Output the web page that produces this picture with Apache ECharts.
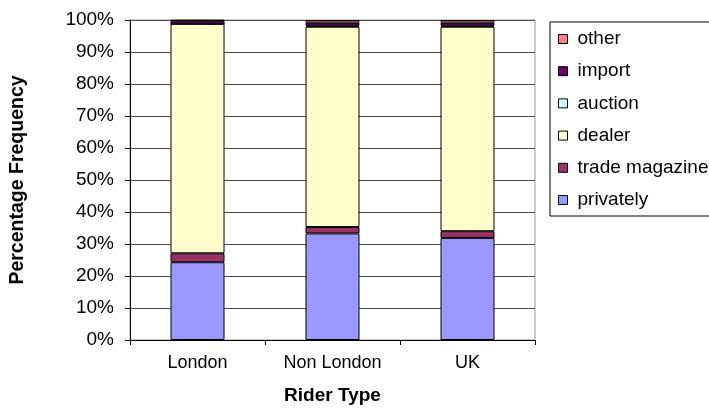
<!DOCTYPE html>
<html>
<head>
<meta charset="utf-8">
<script src="https://cdn.jsdelivr.net/npm/echarts@6/dist/echarts.min.js"></script>
<style>
  html, body { margin: 0; padding: 0; background: #fff; }
  #chart { width: 709px; height: 410px; }
</style>
</head>
<body>
<div id="chart"></div>
<script>
// Rider types along the x axis
const categories = ['London', 'Non London', 'UK'];

// Share of purchases by source (percent of each rider type)
const privately     = [24.3, 33.3, 31.9];
const tradeMagazine = [2.8, 2.0, 2.1];
const dealer        = [71.7, 62.6, 63.9];
const auction       = [0.0, 0.3, 0.3];
const importSrc     = [1.0, 1.0, 1.0];
const other         = [0.2, 0.8, 0.8];

const seriesDefs = [
  { name: 'privately',       data: privately,     color: '#9999FF' },
  { name: 'trade magazine',  data: tradeMagazine, color: '#993366' },
  { name: 'dealer',          data: dealer,        color: '#FFFFCC' },
  { name: 'auction',         data: auction,       color: '#CCFFFF' },
  { name: 'import',          data: importSrc,     color: '#660066' },
  { name: 'other',           data: other,         color: '#FF8080' }
];

const FONT = 'Liberation Sans, Arial, sans-serif';

const chart = echarts.init(document.getElementById('chart'), null, { renderer: 'canvas' });

chart.setOption({
  animation: false,
  backgroundColor: '#ffffff',
  textStyle: { fontFamily: FONT, color: '#000' },
  grid: {
    left: 130, right: 174, top: 20, bottom: 67,
    show: true, borderColor: '#9a9a9a', borderWidth: 1, backgroundColor: 'transparent'
  },
  legend: {
    orient: 'vertical',
    left: 550, top: 22,
    data: seriesDefs.map(s => s.name).reverse(),
    itemWidth: 9, itemHeight: 9, itemGap: 12.2,
    padding: [7, 24, 6, 8],
    borderColor: '#000', borderWidth: 1,
    icon: 'rect',
    textStyle: { fontFamily: FONT, fontSize: 19, lineHeight: 20, color: '#000', padding: [0, 0, 0, 5] },
    itemStyle: { borderColor: '#000', borderWidth: 1 }
  },
  xAxis: {
    type: 'category',
    data: categories,
    name: 'Rider Type',
    nameLocation: 'middle',
    nameGap: 46,
    nameTextStyle: { fontFamily: FONT, fontSize: 19, fontWeight: 'bold', color: '#000' },
    axisLine: { lineStyle: { color: '#000', width: 1 } },
    axisTick: { show: true, alignWithLabel: false, length: 5, lineStyle: { color: '#000' } },
    axisLabel: { fontFamily: FONT, fontSize: 18, color: '#000', margin: 14 }
  },
  yAxis: {
    type: 'value',
    min: 0, max: 100, interval: 10,
    name: 'Percentage Frequency',
    nameLocation: 'middle',
    nameGap: 102,
    nameTextStyle: { fontFamily: FONT, fontSize: 19.5, fontWeight: 'bold', color: '#000' },
    axisLine: { show: true, lineStyle: { color: '#000', width: 1 } },
    axisTick: { show: true, length: 5, lineStyle: { color: '#000' } },
    axisLabel: { formatter: '{value}%', fontFamily: FONT, fontSize: 19, color: '#000', margin: 16 },
    splitLine: { show: true, lineStyle: { color: '#4d4d4d', width: 1 } }
  },
  series: seriesDefs.map(s => ({
    name: s.name,
    type: 'bar',
    stack: 'total',
    barWidth: 54,
    data: s.data,
    itemStyle: { color: s.color, borderColor: '#000', borderWidth: 1 }
  }))
});
</script>
</body>
</html>
